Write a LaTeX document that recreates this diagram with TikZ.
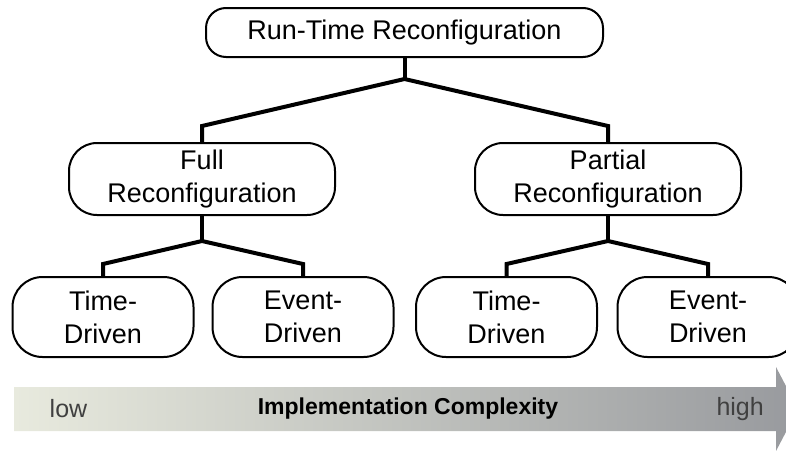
\documentclass[tikz,border=0pt]{standalone}
\usepackage{fontspec}
\setmainfont{Liberation Sans}
\usepackage{tikz}
\usetikzlibrary{calc}

\definecolor{barL}{RGB}{232,234,222}
\definecolor{barM}{RGB}{198,201,194}
\definecolor{barR}{RGB}{152,154,158}
\definecolor{barText}{RGB}{64,64,64}

\begin{document}
\begin{tikzpicture}[x=1pt,y=-1pt,
	box/.style={draw, line width=2pt, inner sep=0pt, align=center, font=\fontsize{27}{33}\selectfont},
	rootbox/.style={box, minimum width=397pt, minimum height=49pt, rounded corners=20pt},
	midbox/.style={box, minimum width=266pt, minimum height=72pt, rounded corners=28pt},
	leafbox/.style={box, minimum width=181pt, minimum height=80pt, rounded corners=30pt},
	branch/.style={line width=4pt},
	barlabel/.style={inner sep=0pt, text=barText, font=\fontsize{25}{30}\selectfont}
]
\useasboundingbox (0,0) rectangle (786,450);

\node[rootbox] (rtr) at (404.5,32.5) {Run-Time Reconfiguration};
\node[midbox] (full) at (202,179) {Full\\Reconfiguration};
\node[midbox] (part) at (608,179) {Partial\\Reconfiguration};
\node[leafbox] (fulltime) at (103,317) {Time-\\Driven};
\node[leafbox] (fullevent) at (303,317) {Event-\\Driven};
\node[leafbox] (parttime) at (506.5,317) {Time-\\Driven};
\node[leafbox] (partevent) at (708,317) {Event-\\Driven};

% tree connectors
\draw[branch] (rtr.south) -- ++(0,21) coordinate (rtrj);
\draw[branch] (full.north) -- ++(0,-16) -- (rtrj) -- ([yshift=16pt]part.north) -- (part.north);
\draw[branch] (full.south) -- ++(0,25) coordinate (fullj);
\draw[branch] (fulltime.north) -- ++(0,-12) -- (fullj) -- ([yshift=12pt]fullevent.north) -- (fullevent.north);
\draw[branch] (part.south) -- ++(0,25) coordinate (partj);
\draw[branch] (parttime.north) -- ++(0,-12) -- (partj) -- ([yshift=12pt]partevent.north) -- (partevent.north);

% complexity arrow
\shade[left color=barL, middle color=barM, right color=barR]
	(14,387) -- (776,387) -- (776,367) -- (798,409) -- (776,451) -- (776,431) -- (14,431) -- cycle;
\node[barlabel] (low) at (68.5,409) {low};
\node[inner sep=0pt, font=\fontsize{23}{27}\selectfont\bfseries] (cplx) at (408,409) {Implementation Complexity};
\node[barlabel, anchor=east] (high) at (764,409) {high};
\end{tikzpicture}
\end{document}
